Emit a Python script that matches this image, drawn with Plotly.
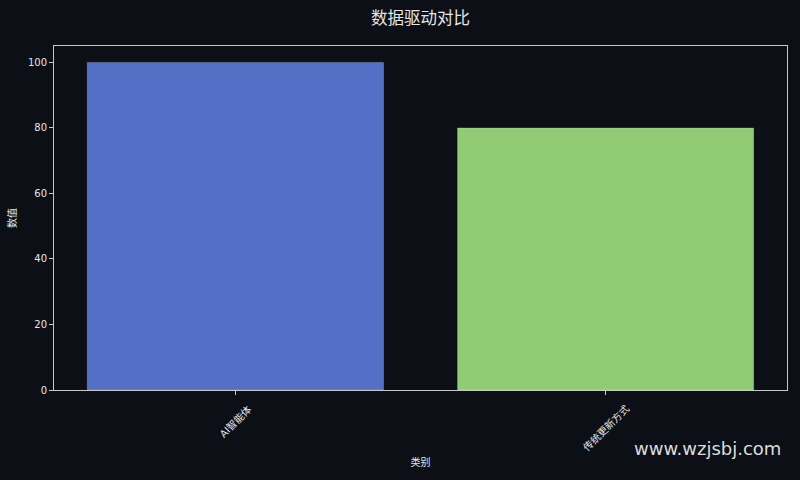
import plotly.graph_objects as go

categories = ["AI智能体", "传统更新方式"]
values = [100, 80]
colors = ["#5470c6", "#91cc75"]

bg = "#0c0f16"
fg = "#e6e6e6"
font = "DejaVu Sans, Noto Sans CJK SC, sans-serif"
cjk = "Noto Sans CJK SC, DejaVu Sans, sans-serif"

fig = go.Figure(go.Bar(
    x=categories, y=values, width=0.8,
    marker=dict(color=colors, line=dict(color="rgba(255,255,255,0.25)", width=0.8)),
))

fig.update_layout(
    width=800, height=480,
    paper_bgcolor=bg, plot_bgcolor=bg,
    margin=dict(l=52, r=12, t=46, b=90),
    font=dict(family=font, color=fg, size=10),
    title=dict(text="数据驱动对比", xref="paper", x=0.5, xanchor="center", y=0.962, yanchor="middle",
               font=dict(size=16.5, color=fg, family=cjk)),
    showlegend=False,
    bargap=0.2,
)
fig.update_xaxes(
    range=[-0.49, 1.49], showgrid=False, zeroline=False,
    showline=True, linecolor="#c8c8c8", linewidth=1, mirror=True,
    ticks="outside", ticklen=4, tickcolor="#c8c8c8",
    showticklabels=False,
    title=dict(text="类别", font=dict(size=10, color=fg, family=cjk), standoff=64),
)
fig.update_yaxes(
    range=[0, 105], showgrid=False, zeroline=False,
    showline=True, linecolor="#c8c8c8", linewidth=1, mirror=True,
    ticks="outside", ticklen=4, tickcolor="#c8c8c8",
    tickvals=[0, 20, 40, 60, 80, 100],
    tickfont=dict(size=10, color=fg, family=font),
    title=dict(text="数值", font=dict(size=10, color=fg, family=cjk), standoff=9),
)
for c in categories:
    fig.add_annotation(
        text=c, x=c, xref="x", yref="paper", y=-0.028,
        xanchor="center", yanchor="top", textangle=-45, showarrow=False,
        font=dict(size=10, color=fg, family=font),
    )
fig.add_annotation(
    text="www.wzjsbj.com", xref="paper", yref="paper",
    x=0.9946, y=-0.17, xanchor="right", yanchor="middle", showarrow=False,
    font=dict(size=18, color="#dcdcdc", family="DejaVu Sans, sans-serif"),
)
fig.write_html(
    "out.html",
    config={"displayModeBar": False},
    post_script="document.body.style.margin='0';document.body.style.background='#0c0f16';",
)
